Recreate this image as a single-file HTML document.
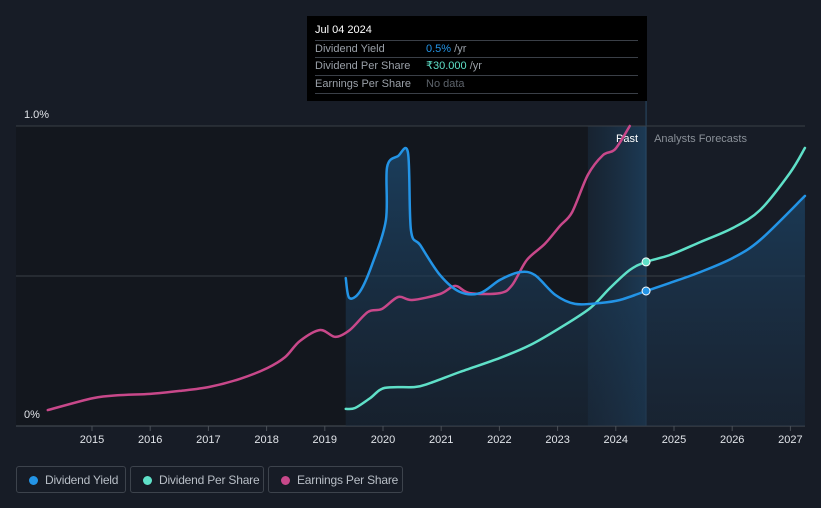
<!DOCTYPE html>
<html><head><meta charset="utf-8"><style>
body{margin:0;background:#171c26;font-family:"Liberation Sans",sans-serif;}
#wrap{position:relative;width:821px;height:508px;overflow:hidden;background:#171c26}
.tt{position:absolute;left:307px;top:16px;width:340px;height:85px;background:#000;color:#fff;font-size:11px}
.tt .r{position:absolute;left:8px;width:323px;border-top:1px solid #3a3f47;height:17px;line-height:17px;color:#9aa0a8}
.leg{position:absolute;top:466px;height:27px;border:1px solid #3d434c;border-radius:3px;color:#b8bec6;font-size:12px;line-height:27px;box-sizing:border-box;white-space:nowrap}
.leg i{position:absolute;left:12px;top:9px;width:9px;height:9px;border-radius:50%}
.leg span{position:absolute;left:28px;letter-spacing:-0.2px}
</style></head><body>
<div id="wrap">
<svg id="chart" width="821" height="508"></svg>
<div class="tt">
 <div style="position:absolute;left:8px;top:8px;font-size:11px;color:#fff">Jul 04 2024</div>
 <div class="r" style="top:24px">Dividend Yield<span style="position:absolute;left:111px"><b style="font-weight:normal;color:#2394e6">0.5%</b> <span style="color:#9aa0a8">/yr</span></span></div>
 <div class="r" style="top:41px">Dividend Per Share<span style="position:absolute;left:111px"><b style="font-weight:normal;color:#5fe0c8">₹30.000</b> <span style="color:#9aa0a8">/yr</span></span></div>
 <div class="r" style="top:59px;border-bottom:1px solid #3a3f47">Earnings Per Share<span style="position:absolute;left:111px;color:#5d636b">No data</span></div>
</div>
<div class="leg" style="left:16px;width:110px"><i style="background:#2394e6"></i><span>Dividend Yield</span></div>
<div class="leg" style="left:130px;width:134px"><i style="background:#5fe0c8"></i><span>Dividend Per Share</span></div>
<div class="leg" style="left:268px;width:135px"><i style="background:#c8488a"></i><span>Earnings Per Share</span></div>
</div>
<script>
const yieldYears=[2019.36,2019.42,2019.60,2019.81,2020.05,2020.07,2020.26,2020.43,2020.48,2020.64,2020.98,2021.32,2021.67,2022.01,2022.35,2022.61,2022.96,2023.30,2023.73,2024.07,2024.52,2024.93,2025.45,2026.01,2026.48,2027.25];
const yieldVals=[0.493,0.427,0.447,0.537,0.687,0.863,0.90,0.91,0.653,0.603,0.503,0.447,0.443,0.487,0.513,0.503,0.437,0.407,0.41,0.42,0.45,0.477,0.513,0.56,0.62,0.767];
const dpsYears=[2019.36,2019.52,2019.78,2020.03,2020.55,2020.81,2021.32,2022.01,2022.53,2023.04,2023.56,2023.90,2024.24,2024.52,2024.93,2025.45,2026.01,2026.48,2026.99,2027.25];
const dpsVals=[0.057,0.06,0.093,0.127,0.13,0.143,0.18,0.227,0.27,0.327,0.393,0.46,0.52,0.547,0.57,0.613,0.66,0.72,0.843,0.927];
const epsYears=[2014.24,2015.02,2015.48,2016.00,2016.51,2017.01,2017.54,2018.01,2018.32,2018.57,2018.92,2019.18,2019.43,2019.74,2019.98,2020.26,2020.50,2020.98,2021.24,2021.49,2022.01,2022.22,2022.47,2022.78,2023.04,2023.25,2023.52,2023.78,2023.99,2024.24];
const epsVals=[0.053,0.093,0.103,0.107,0.117,0.13,0.157,0.193,0.23,0.283,0.32,0.297,0.32,0.38,0.39,0.43,0.42,0.44,0.467,0.443,0.443,0.47,0.553,0.607,0.667,0.713,0.837,0.903,0.923,1.0];
const xTicks=[2015,2016,2017,2018,2019,2020,2021,2022,2023,2024,2025,2026,2027];
const yTicks=[0,0.5,1.0];
const yTickLabels=["0%","","1.0%"];
const nowYear=2024.52, pastStart=2023.52;

const X=y=>92+(y-2015)*58.2;
const Y=v=>426-v*300;
const NS="http://www.w3.org/2000/svg";
const svg=document.getElementById('chart');
function mk(t,a,p){const e=document.createElementNS(NS,t);for(const k in a)e.setAttribute(k,a[k]);(p||svg).appendChild(e);return e;}
function path(xs,vs){
  const p=xs.map((x,i)=>[X(x),Y(vs[i])]);
  let d="M"+p[0][0]+","+p[0][1];
  for(let i=0;i<p.length-1;i++){
    const p0=p[Math.max(0,i-1)],p1=p[i],p2=p[i+1],p3=p[Math.min(p.length-1,i+2)];
    const t=0.16;
    d+=" C"+(p1[0]+(p2[0]-p0[0])*t)+","+(p1[1]+(p2[1]-p0[1])*t)+" "+(p2[0]-(p3[0]-p1[0])*t)+","+(p2[1]-(p3[1]-p1[1])*t)+" "+p2[0]+","+p2[1];
  }
  return d;
}
const defs=mk('defs',{});
const g=mk('linearGradient',{id:'fg',x1:0,y1:0,x2:0,y2:1},defs);
mk('stop',{offset:0,'stop-color':'#1d4a70','stop-opacity':0.75},g);
mk('stop',{offset:1,'stop-color':'#1a2a3c','stop-opacity':0.5},g);
const g2=mk('linearGradient',{id:'bg2',x1:0,y1:0,x2:1,y2:0},defs);
mk('stop',{offset:0,'stop-color':'#1a2b3d','stop-opacity':0.6},g2);
mk('stop',{offset:1,'stop-color':'#1c3a55','stop-opacity':1},g2);

let e=mk('rect',{x:16,y:126,width:X(nowYear)-16,height:300,fill:'#13171e'});

e=mk('rect',{x:X(pastStart),y:126,width:X(nowYear)-X(pastStart),height:300,fill:'url(#bg2)'});

e=mk('line',{x1:X(nowYear),x2:X(nowYear),y1:100,y2:426,stroke:'#2a4a66','stroke-width':1});


yTicks.forEach((v,i)=>{
  if(v>0){const l=mk('line',{x1:16,x2:805,y1:Y(v),y2:Y(v),stroke:'#3a3f47','stroke-width':1});
  }
  if(yTickLabels[i]){const t=mk('text',{x:24,y:Y(v)-8,fill:'#e0e3e8','font-size':11});t.textContent=yTickLabels[i];
  }
});
e=mk('line',{x1:16,x2:805,y1:426,y2:426,stroke:'#4a5058','stroke-width':1});

xTicks.forEach(y=>{
  const l=mk('line',{x1:X(y),x2:X(y),y1:426,y2:431,stroke:'#4a5058'});
  
  const t=mk('text',{x:X(y),y:443,fill:'#e0e3e8','font-size':11,'text-anchor':'middle'});t.textContent=y;
  
});
let t=mk('text',{x:X(nowYear)-8,y:142,fill:'#fff','font-size':11,'text-anchor':'end'});t.textContent='Past';

t=mk('text',{x:X(nowYear)+8,y:142,fill:'#8a9098','font-size':11});t.textContent='Analysts Forecasts';


const yd=path(yieldYears,yieldVals);
e=mk('path',{d:yd+" L"+X(yieldYears[yieldYears.length-1])+",426 L"+X(yieldYears[0])+",426 Z",fill:'url(#fg)'});

e=mk('path',{d:path(epsYears,epsVals),fill:'none',stroke:'#c8488a','stroke-width':2.5,'stroke-linecap':'round'});

e=mk('path',{d:path(dpsYears,dpsVals),fill:'none',stroke:'#5fe0c8','stroke-width':2.5,'stroke-linecap':'round'});

e=mk('path',{d:yd,fill:'none',stroke:'#2394e6','stroke-width':2.5,'stroke-linecap':'round'});

const yi=yieldYears.indexOf(nowYear), di=dpsYears.indexOf(nowYear);
e=mk('circle',{cx:X(nowYear),cy:Y(dpsVals[di]),r:4,fill:'#5fe0c8',stroke:'#fff','stroke-width':1});

e=mk('circle',{cx:X(nowYear),cy:Y(yieldVals[yi]),r:4,fill:'#2394e6',stroke:'#fff','stroke-width':1});

</script>
</body></html>
